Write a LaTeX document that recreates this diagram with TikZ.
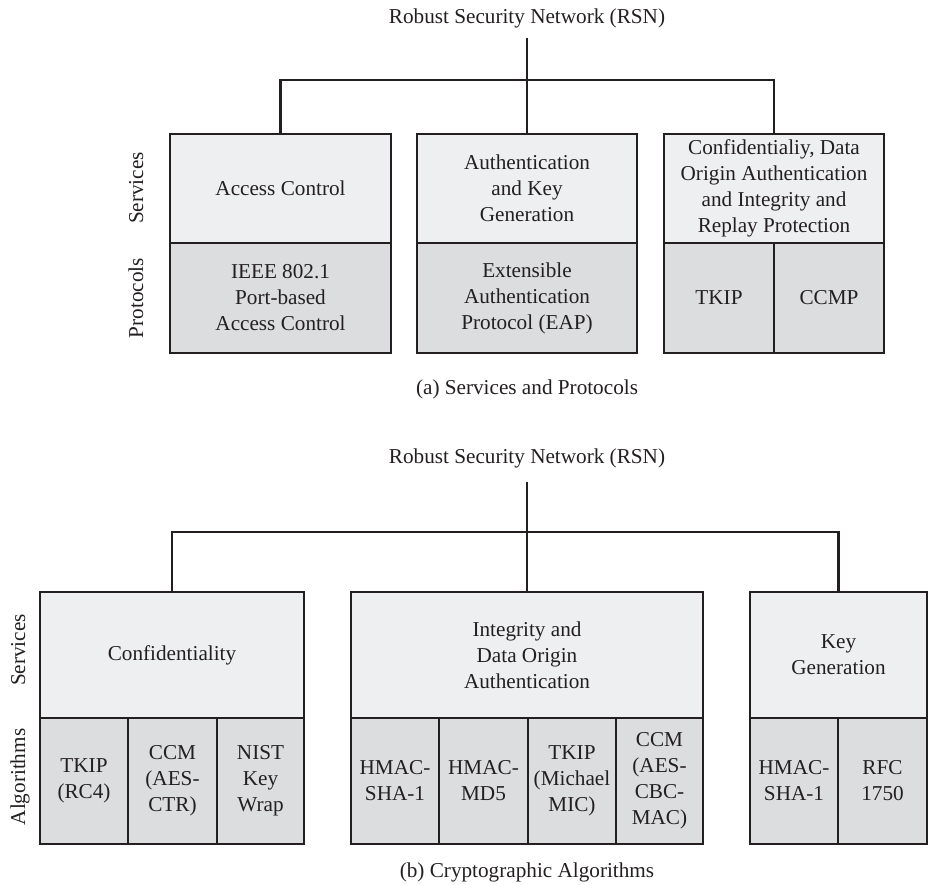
\documentclass[tikz,border=0pt]{standalone}
\usepackage{fontspec}
\setmainfont{Liberation Serif}
\usetikzlibrary{positioning}
\definecolor{svcgray}{HTML}{EEEFF1}
\definecolor{alggray}{HTML}{DCDDDF}
\definecolor{inkline}{HTML}{231F20}

\begin{document}
\begin{tikzpicture}[
    x=1pt,
    y=-1pt,
    cell/.style={
        rectangle,
        draw=inkline,
        line width=2.4pt,
        anchor=north west,
        inner sep=0pt,
        outer sep=0pt,
        align=center,
        text=inkline,
        font=\fontsize{21.2}{26}\selectfont
    },
    cellsize/.style 2 args={minimum width=#1pt, minimum height=#2pt},
    service/.style={cell, fill=svcgray},
    algo/.style={cell, fill=alggray},
    heading/.style={
        inner xsep=0pt,
        inner ysep=10pt,
        text=inkline,
        font=\fontsize{21.2}{26}\selectfont
    },
    side/.style={
        rotate=90,
        anchor=base,
        inner sep=0pt,
        text=inkline,
        font=\fontsize{21.2}{26}\selectfont
    },
    link/.style={draw=inkline, line width=2.4pt}
]
\useasboundingbox (0,0) rectangle (928,885);

% (a) Services and protocols
\node[heading] (rsnA) at (527,18) {Robust Security Network (RSN)};
\coordinate (busA) at (527,80);

\node[service, cellsize={221}{109}] (svcA1) at (170,134) {Access Control};
\node[algo, cellsize={221}{110}, below=0pt of svcA1] (proA1) {IEEE 802.1\\Port-based\\Access Control};

\node[service, cellsize={220}{109}] (svcA2) at (417,134) {Authentication\\and Key\\Generation};
\node[algo, cellsize={220}{110}, below=0pt of svcA2] (proA2) {Extensible\\Authentication\\Protocol (EAP)};

\node[service, cellsize={220}{109}] (svcA3) at (664,134) {Confidentialiy, Data\\Origin Authentication\\and Integrity and\\Replay Protection};
\node[algo, cellsize={110}{110}] (proA3) at (664,243) {TKIP};
\node[algo, cellsize={110}{110}, right=0pt of proA3] (proA4) {CCMP};

\node[side] (sideA1) at (143,188) {Services};
\node[side] (sideA2) at (143,298) {Protocols};

\draw[link] (rsnA) -- (svcA2.north);
\draw[link] (svcA1.north) |- (busA) -| (svcA3.north);

\node[heading] (capA) at (527,389) {(a) Services and Protocols};

% (b) Cryptographic algorithms
\node[heading, inner ysep=14pt] (rsnB) at (527,458) {Robust Security Network (RSN)};
\coordinate (busB) at (527,532);

\node[service, cellsize={264}{126}] (svcB1) at (40,592) {Confidentiality};
\node[algo, cellsize={88}{126}] (algB1) at (40,718) {TKIP\\(RC4)};
\node[algo, cellsize={89}{126}, right=0pt of algB1] (algB2) {CCM\\(AES-\\CTR)};
\node[algo, cellsize={87}{126}, right=0pt of algB2] (algB3) {NIST\\Key\\Wrap};

\node[service, cellsize={352}{126}] (svcB2) at (351,592) {Integrity and\\Data Origin\\Authentication};
\node[algo, cellsize={88}{126}] (algB4) at (351,718) {HMAC-\\SHA-1};
\node[algo, cellsize={89}{126}, right=0pt of algB4] (algB5) {HMAC-\\MD5};
\node[algo, cellsize={88}{126}, right=0pt of algB5] (algB6) {TKIP\\(Michael\\MIC)};
\node[algo, cellsize={87}{126}, right=0pt of algB6] (algB7) {CCM\\(AES-\\CBC-\\MAC)};

\node[service, cellsize={177}{126}] (svcB3) at (750,592) {Key\\Generation};
\node[algo, cellsize={88}{126}] (algB8) at (750,718) {HMAC-\\SHA-1};
\node[algo, cellsize={89}{126}, right=0pt of algB8] (algB9) {RFC\\1750};

\node[side] (sideB1) at (25,650) {Services};
\node[side] (sideB2) at (25,777) {Algorithms};

\draw[link] (rsnB) -- (svcB2.north);
\draw[link] (svcB1.north) |- (busB) -| (svcB3.north);

\node[heading] (capB) at (527,872) {(b) Cryptographic Algorithms};
\end{tikzpicture}
\end{document}
